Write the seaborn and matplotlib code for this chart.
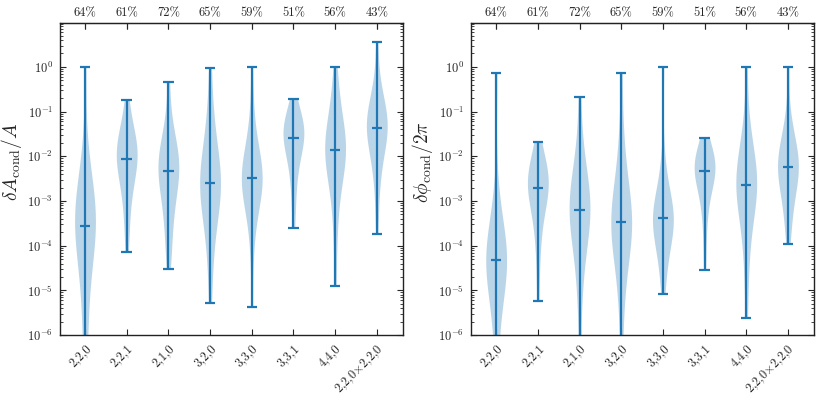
import numpy as np
import pandas as pd
import seaborn as sns
import matplotlib.pyplot as plt
from matplotlib.ticker import LogLocator, NullFormatter

sns.set_style("ticks")
plt.rcParams["font.family"] = "cmr10"
plt.rcParams["mathtext.fontset"] = "cm"
plt.rcParams["axes.formatter.use_mathtext"] = True

labels = ["2,2,0", "2,2,1", "2,1,0", "3,2,0", "3,3,0", "3,3,1", "4,4,0",
          "2,2,0$\\times$2,2,0"]
percents = ["64%", "61%", "72%", "65%", "59%", "51%", "56%", "43%"]

# log10 of the errors (amplitude panel)
amp_220 = [0.0, -1.9, -2.4, -2.7, -2.9, -3.05, -3.15, -3.25, -3.35, -3.45, -3.56,
           -3.65, -3.75, -3.9, -4.05, -4.3, -4.7, -5.1, -5.6, -6.2, -7.0]
amp_221 = [-0.73, -1.15, -1.35, -1.5, -1.6, -1.7, -1.78, -1.85, -1.92, -1.99, -2.06,
           -2.14, -2.23, -2.33, -2.45, -2.6, -2.78, -3.0, -3.3, -3.7, -4.15]
amp_210 = [-0.34, -1.2, -1.5, -1.7, -1.85, -1.95, -2.03, -2.11, -2.19, -2.26, -2.34,
           -2.43, -2.53, -2.65, -2.8, -2.98, -3.2, -3.45, -3.75, -4.1, -4.52]
amp_320 = [-0.03, -0.9, -1.3, -1.6, -1.85, -2.05, -2.2, -2.33, -2.44, -2.52, -2.6,
           -2.7, -2.8, -2.92, -3.05, -3.2, -3.4, -3.65, -4.0, -4.5, -5.27]
amp_330 = [-0.01, -1.0, -1.5, -1.8, -2.0, -2.15, -2.25, -2.33, -2.39, -2.44, -2.48,
           -2.53, -2.6, -2.68, -2.78, -2.9, -3.05, -3.25, -3.6, -4.2, -5.37]
amp_331 = [-0.71, -0.95, -1.08, -1.17, -1.24, -1.3, -1.36, -1.42, -1.47, -1.53, -1.59,
           -1.66, -1.74, -1.83, -1.94, -2.07, -2.23, -2.45, -2.75, -3.1, -3.6]
amp_440 = [0.0, -0.5, -0.85, -1.1, -1.3, -1.45, -1.57, -1.67, -1.75, -1.81, -1.86,
           -1.93, -2.02, -2.12, -2.24, -2.4, -2.6, -2.9, -3.3, -3.9, -4.89]
amp_prod = [0.56, -0.3, -0.6, -0.8, -0.93, -1.03, -1.11, -1.18, -1.24, -1.3, -1.36,
            -1.43, -1.51, -1.6, -1.71, -1.85, -2.02, -2.25, -2.55, -3.0, -3.73]

# log10 of the errors (phase panel)
ph_220 = [-0.13, -2.8, -3.3, -3.6, -3.8, -3.95, -4.05, -4.13, -4.2, -4.27, -4.33,
          -4.41, -4.5, -4.6, -4.72, -4.88, -5.08, -5.35, -5.7, -6.2, -7.0]
ph_221 = [-1.69, -1.95, -2.1, -2.22, -2.3, -2.38, -2.45, -2.52, -2.58, -2.65, -2.71,
          -2.78, -2.86, -2.96, -3.08, -3.23, -3.42, -3.68, -4.0, -4.5, -5.24]
ph_210 = [-0.67, -1.7, -2.1, -2.4, -2.6, -2.75, -2.87, -2.97, -3.06, -3.14, -3.21,
          -3.3, -3.4, -3.52, -3.67, -3.85, -4.08, -4.4, -4.85, -5.5, -6.8]
ph_320 = [-0.13, -1.5, -2.0, -2.4, -2.7, -2.92, -3.1, -3.23, -3.33, -3.41, -3.47,
          -3.55, -3.64, -3.75, -3.88, -4.05, -4.27, -4.55, -4.95, -5.5, -6.5]
ph_330 = [-0.01, -2.0, -2.5, -2.8, -3.0, -3.12, -3.2, -3.26, -3.31, -3.35, -3.38,
          -3.43, -3.5, -3.58, -3.67, -3.78, -3.92, -4.1, -4.35, -4.7, -5.08]
ph_331 = [-1.59, -1.75, -1.86, -1.95, -2.02, -2.08, -2.14, -2.2, -2.25, -2.3, -2.34,
          -2.4, -2.47, -2.55, -2.65, -2.78, -2.95, -3.15, -3.45, -3.9, -4.54]
ph_440 = [0.0, -1.2, -1.6, -1.85, -2.05, -2.2, -2.32, -2.42, -2.5, -2.57, -2.64,
          -2.72, -2.81, -2.92, -3.05, -3.22, -3.45, -3.75, -4.15, -4.75, -5.61]
ph_prod = [0.0, -1.1, -1.4, -1.6, -1.75, -1.87, -1.96, -2.04, -2.12, -2.19, -2.25,
           -2.32, -2.4, -2.49, -2.6, -2.73, -2.88, -3.06, -3.3, -3.6, -3.96]

amp = [amp_220, amp_221, amp_210, amp_320, amp_330, amp_331, amp_440, amp_prod]
phase = [ph_220, ph_221, ph_210, ph_320, ph_330, ph_331, ph_440, ph_prod]


def long_form(groups):
    rows = []
    for lab, vals in zip(labels, groups):
        for v in vals:
            rows.append({"mode": lab, "err": 10.0 ** v})
    return pd.DataFrame(rows)


blue = "#1f77b4"
fig, axes = plt.subplots(1, 2, figsize=(8.22, 3.99), dpi=100)
fig.subplots_adjust(left=0.073, right=0.990, bottom=0.160, top=0.942, wspace=0.2)

for ax, groups, ylab in zip(axes, [amp, phase],
                            [r"$\delta A_{\rm cond}/A$", r"$\delta\phi_{\rm cond}/2\pi$"]):
    df = long_form(groups)
    sns.violinplot(data=df, x="mode", y="err", order=labels, ax=ax, log_scale=True,
                   color=blue, saturation=1, inner=None, cut=0, width=0.5,
                   density_norm="width", bw_adjust=1.0, linewidth=0, alpha=0.3)

    pos = np.arange(len(labels))
    lo = [10.0 ** min(g) for g in groups]
    hi = [10.0 ** max(g) for g in groups]
    med = [10.0 ** np.median(g) for g in groups]
    ax.vlines(pos, lo, hi, color=blue, lw=1.6)
    for y in (lo, hi, med):
        ax.hlines(y, pos - 0.125, pos + 0.125, color=blue, lw=1.6)

    ax.set_ylim(1e-6, 9.5)
    ax.set_xlim(-0.6, 7.62)
    ax.set_yticks([10.0 ** k for k in range(-6, 1)])
    ax.yaxis.set_minor_locator(LogLocator(base=10, subs=np.arange(2, 10), numticks=20))
    ax.yaxis.set_minor_formatter(NullFormatter())
    ax.set_xticks(pos)
    ax.set_xticklabels(labels, rotation=45, ha="right", rotation_mode="anchor")
    ax.set_xlabel("")
    ax.set_ylabel(ylab, fontsize=14)
    ax.yaxis.set_label_coords(-0.105, 0.555)
    ax.tick_params(which="both", direction="in", right=True, top=True, labelsize=9)
    ax.tick_params(which="major", length=4, pad=5)
    ax.tick_params(which="minor", length=2)
    ax.tick_params(axis="x", which="minor", top=False, bottom=False)

    top = ax.secondary_xaxis("top")
    top.set_xticks(pos)
    top.set_xticklabels(percents)
    top.tick_params(direction="in", length=4, labelsize=9, pad=3)

    for sp in ax.spines.values():
        sp.set_linewidth(1.0)
        sp.set_color("#222222")

plt.savefig("out.png", dpi=100)
